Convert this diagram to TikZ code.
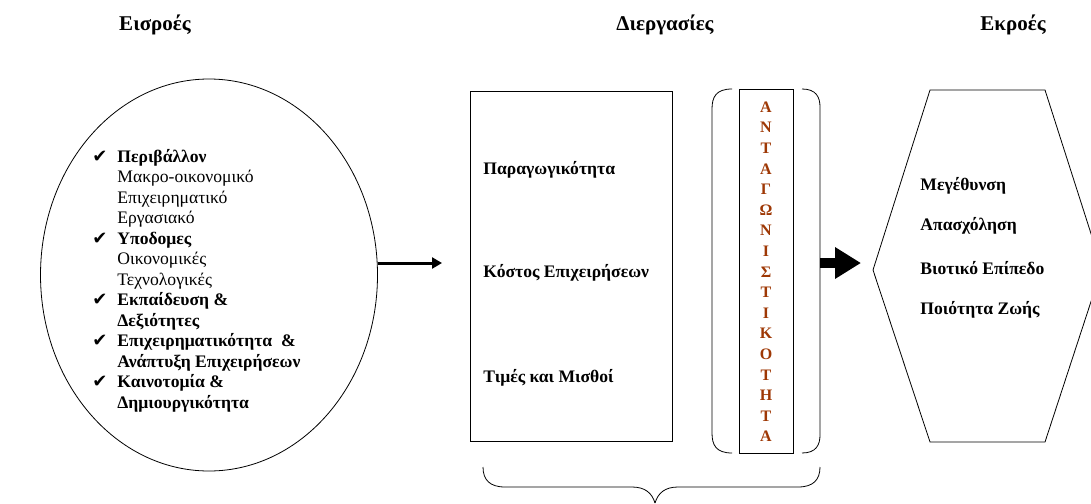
\documentclass[tikz,border=0pt]{standalone}
\usepackage{fontspec}
\setmainfont{Liberation Serif}
\newfontfamily\checkfont{DejaVu Sans}
\usepackage{tikz}
\usetikzlibrary{arrows.meta,shapes.geometric}
\definecolor{rust}{RGB}{158,56,5}
\newcommand{\tick}{\makebox[25pt][l]{\checkfont\fontsize{18}{20.5}\selectfont ✔}}

\begin{document}
\begin{tikzpicture}[x=1pt,y=-1pt,line width=0.8pt,
  title/.style={font=\fontsize{21}{24}\selectfont\bfseries},
  item/.style={anchor=west,inner sep=0pt,font=\fontsize{17.6}{20.5}\selectfont\bfseries},
  letter/.style={inner sep=0pt,text=rust,font=\fontsize{16}{18}\selectfont\bfseries}]
\useasboundingbox (0,0) rectangle (1091,503);

\node[title] (tin)   at (155,25)  {Εισροές};
\node[title] (tproc) at (665,25)  {Διεργασίες};
\node[title] (tout)  at (1013,25) {Εκροές};

% inputs
\node[draw,ellipse,minimum width=337pt,minimum height=392pt] (inputs) at (209,275) {};
\node[anchor=north west,inner sep=0pt,align=left,font=\fontsize{17.6}{20.5}\selectfont] (inlist) at (92,149)
 {\tick\textbf{Περιβάλλον}\\
  \hspace*{25pt}Μακρο-οικονομικό\\
  \hspace*{25pt}Επιχειρηματικό\\
  \hspace*{25pt}Εργασιακό\\
  \tick\textbf{Υποδομες}\\
  \hspace*{25pt}Οικονομικές\\
  \hspace*{25pt}Τεχνολογικές\\
  \tick\textbf{Εκπαίδευση \&}\\
  \hspace*{25pt}\textbf{Δεξιότητες}\\
  \tick\textbf{Επιχειρηματικότητα \ \&}\\
  \hspace*{25pt}\textbf{Ανάπτυξη Επιχειρήσεων}\\
  \tick\textbf{Καινοτομία \&}\\
  \hspace*{25pt}\textbf{Δημιουργικότητα}};

% processes
\node[draw,minimum width=202pt,minimum height=350pt,inner sep=0pt] (proc) at (571,266) {};
\node[item] (prod)  at (483,170) {Παραγωγικότητα};
\node[item] (cost)  at (483,273) {Κόστος Επιχειρήσεων};
\node[item] (price) at (483,378) {Τιμές και Μισθοί};

\node[draw,minimum width=54pt,minimum height=364pt,inner sep=0pt] (comp) at (766,271) {};
\foreach \ch [count=\i] in {Α,Ν,Τ,Α,Γ,Ω,Ν,Ι,Σ,Τ,Ι,Κ,Ο,Τ,Η,Τ,Α}
  \node[letter] (L\i) at (766,{107+20.6*(\i-1)}) {\ch};

\draw (732,89) .. controls (716,89) and (712,97) .. (712,109) -- (712,433)
      .. controls (712,445) and (716,453) .. (732,453);
\draw (802,89) .. controls (816,89) and (820,97) .. (820,107) -- (820,435)
      .. controls (820,445) and (816,453) .. (802,453);
\coordinate (bend) at (820,263);

% brace under the processes
\draw (483,467) .. controls (483,480) and (490,487) .. (505,487) -- (632,487)
      .. controls (645,487) and (652,493) .. (655,503);
\draw (655,503) .. controls (658,493) and (665,487) .. (678,487) -- (798,487)
      .. controls (813,487) and (820,480) .. (820,467);

% outputs
\begin{scope}
\clip (0,0) rectangle (1091,503);
\draw (930,90) coordinate (h1) -- (1045,90) -- (1102,268) -- (1045,442) -- (930,442)
      -- (873,270) coordinate (hleft) -- cycle;
\end{scope}
\node[item] (grow)   at (920,186) {Μεγέθυνση};
\node[item] (jobs)   at (920,226) {Απασχόληση};
\node[item] (living) at (920,268) {Βιοτικό Επίπεδο};
\node[item] (life)   at (920,310) {Ποιότητα Ζωής};

% arrows
\coordinate (inend) at (442,263);
\coordinate (outend) at (861,263);
\draw[line width=3pt,-{Triangle[length=10pt,width=11pt]}] (inputs.east |- inend) -- (inend);
\draw[line width=10pt,-{Triangle[length=26pt,width=30pt]}] (bend) -- (outend);
\end{tikzpicture}
\end{document}
